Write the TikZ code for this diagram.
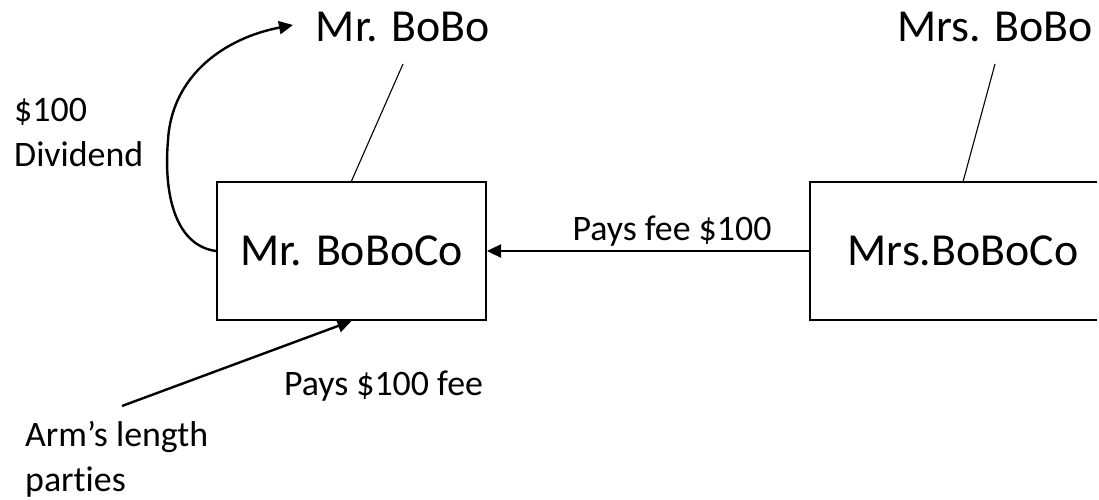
\documentclass[tikz,border=0pt]{standalone}
\usepackage{fontspec}
\setmainfont{Carlito}[Ligatures=NoCommon]
\usetikzlibrary{arrows.meta}
\begin{document}
\begin{tikzpicture}[x=1bp,y=-1bp,
  bigtext/.style={font=\fontsize{46}{55}\selectfont, inner sep=0pt},
  smalltext/.style={font=\fontsize{36}{45}\selectfont, inner sep=0pt},
  entity/.style={minimum width=269bp, minimum height=138bp,
                 inner sep=0pt, font=\fontsize{46}{55}\selectfont},
  frame/.style={line width=2bp},
  thinlink/.style={line width=1.1bp},
  flow/.style={line width=2.4bp, -{Triangle[length=14bp,width=13bp]}}
]
\useasboundingbox (0,0) rectangle (1099,500);
\coordinate (edge) at (1097,0);

% companies
\node[entity, draw, line width=2bp] (c1) at (351.5,251) {Mr. BoBoCo};
\node[entity, minimum width=305bp] (c2) at (963,251) {Mrs.BoBoCo};
% the right-hand box runs off the page, so its far side is left open
\draw[frame] (c2.north west -| edge) -- (c2.north west) -- (c2.south west)
  -- (c2.south west -| edge);

% owners
\node[bigtext] (p1) at (403,27) {Mr. BoBo};
\node[bigtext] (p2) at (995,27) {Mrs. BoBo};

% ownership lines
\draw[thinlink] ([yshift=-37bp]p1.center) -- (c1.north);
\draw[thinlink] ([yshift=-37bp]p2.center) -- (c2.north);

% fee between the companies
\draw[flow] (c2.west) -- (c1.east);
\node[smalltext] (fee) at (672,231) {Pays fee \$100};

% dividend back to the owner
\coordinate (divtip) at (293,25);
\draw[flow] (c1.west) .. controls (178,246) and (163,200) .. (168,140)
  .. controls (172,75) and (225,38) .. (divtip);
\node[smalltext, anchor=north west, align=left] (div) at (14,98) {\$100\\Dividend};

% outside parties
\node[smalltext, anchor=north west, align=left] (arm) at (25,421) {Arm’s length\\parties};
\coordinate (armstart) at (122,406);
\draw[flow] (armstart) -- (c1.south);
\node[smalltext] (armfee) at (383.5,386) {Pays \$100 fee};
\end{tikzpicture}
\end{document}
